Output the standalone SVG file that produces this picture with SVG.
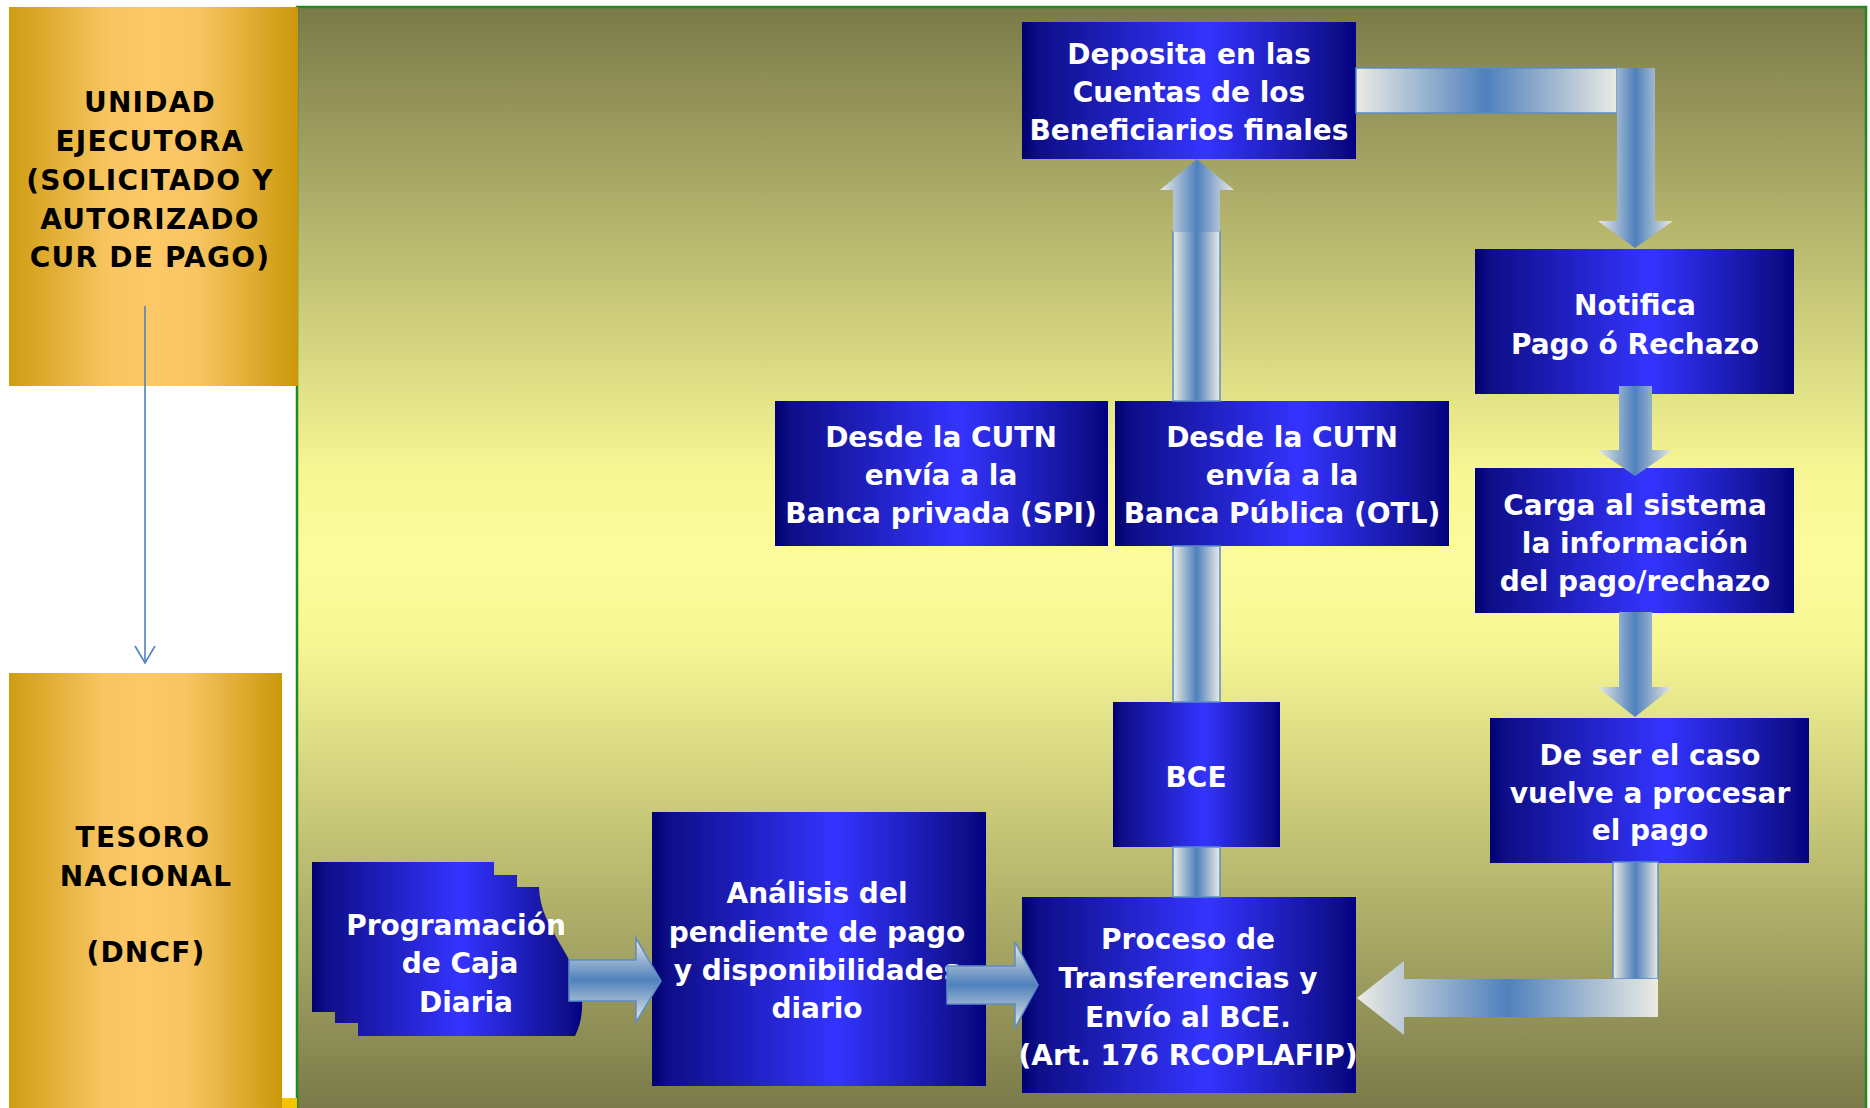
<svg xmlns="http://www.w3.org/2000/svg" width="1870" height="1108" viewBox="0 0 1870 1108">
<defs>
<linearGradient id="bg" x1="0" y1="7" x2="0" y2="1108" gradientUnits="userSpaceOnUse">
<stop offset="0" stop-color="#7a7a4a"/>
<stop offset="0.42" stop-color="#f6f694"/>
<stop offset="0.5" stop-color="#fcfc9c"/>
<stop offset="0.58" stop-color="#f6f694"/>
<stop offset="1" stop-color="#7a7a4a"/>
</linearGradient>
<linearGradient id="gold" x1="0" y1="0" x2="1" y2="0">
<stop offset="0" stop-color="#cf9d12"/>
<stop offset="0.35" stop-color="#f8c562"/>
<stop offset="0.5" stop-color="#fdc866"/>
<stop offset="0.65" stop-color="#f8c562"/>
<stop offset="1" stop-color="#cc980a"/>
</linearGradient>
<linearGradient id="blue" x1="0" y1="0" x2="1" y2="0">
<stop offset="0" stop-color="#000070"/>
<stop offset="0.05" stop-color="#0e0e88"/>
<stop offset="0.55" stop-color="#3434ff"/>
<stop offset="0.95" stop-color="#0e0e8a"/>
<stop offset="1" stop-color="#000082"/>
</linearGradient>
<linearGradient id="gH" x1="0" y1="0" x2="1" y2="0">
<stop offset="0" stop-color="#ebebe3"/>
<stop offset="0.5" stop-color="#4f81bd"/>
<stop offset="1" stop-color="#ebebe3"/>
</linearGradient>
<linearGradient id="gV" x1="0" y1="0" x2="0" y2="1">
<stop offset="0" stop-color="#ebebe3"/>
<stop offset="0.5" stop-color="#4f81bd"/>
<stop offset="1" stop-color="#ebebe3"/>
</linearGradient>
<marker id="open" viewBox="0 0 20 22" refX="18" refY="11" markerWidth="20" markerHeight="22" markerUnits="userSpaceOnUse" orient="auto">
<path d="M1,1 L18,11 L1,21" fill="none" stroke="#4f81bd" stroke-width="1.6"/>
</marker>
<style>
.box{fill:url(#blue)}
.gbox{fill:url(#gold)}
.t{font-family:"DejaVu Sans","Liberation Sans",sans-serif;font-weight:bold;font-size:28px;fill:#ffffff;text-anchor:middle}
.k{font-family:"DejaVu Sans","Liberation Sans",sans-serif;font-weight:bold;font-size:28px;fill:#000000;text-anchor:middle;letter-spacing:1.2px}
.ah{fill:url(#gH)}
.av{fill:url(#gV)}
.edge{stroke:#5b8cc8;stroke-width:1.5}
</style>
</defs>

<rect id="panel" x="297" y="7" width="1569" height="1103" fill="url(#bg)" stroke="#1f8a1f" stroke-width="2.5"/>
<rect x="282" y="1098" width="15" height="10" fill="#f5c400"/>

<g id="n-unidad">
<rect class="gbox" x="9" y="7" width="289" height="379"/>
<text class="k" x="150" y="112">UNIDAD</text>
<text class="k" x="150" y="151">EJECUTORA</text>
<text class="k" x="150" y="190">(SOLICITADO Y</text>
<text class="k" x="150" y="229">AUTORIZADO</text>
<text class="k" x="150" y="267">CUR DE PAGO)</text>
</g>

<g id="n-tesoro">
<rect class="gbox" x="9" y="673" width="273" height="435"/>
<text class="k" x="143" y="847">TESORO</text>
<text class="k" x="146" y="886">NACIONAL</text>
<text class="k" x="146" y="962">(DNCF)</text>
</g>

<g id="n-programacion">
<path class="box" d="M312,862 H494 V875 H517 V887 H539 C540,930 578,955 582,1000 C583,1018 578,1030 575,1036 H358 V1023 H335 V1012 H312 Z"/>
<text class="t" x="456" y="935">Programación</text>
<text class="t" x="460" y="973">de Caja</text>
<text class="t" x="466" y="1012">Diaria</text>
</g>

<g id="n-analisis">
<rect class="box" x="652" y="812" width="334" height="274"/>
<text class="t" x="817" y="903">Análisis del</text>
<text class="t" x="817" y="942">pendiente de pago</text>
<text class="t" x="817" y="980">y disponibilidades</text>
<text class="t" x="817" y="1018">diario</text>
</g>

<g id="n-proceso">
<rect class="box" x="1022" y="897" width="334" height="196"/>
<text class="t" x="1188" y="949">Proceso de</text>
<text class="t" x="1188" y="988">Transferencias y</text>
<text class="t" x="1188" y="1027">Envío al BCE.</text>
<text class="t" x="1188" y="1065">(Art. 176 RCOPLAFIP)</text>
</g>

<g id="n-bce">
<rect class="box" x="1113" y="702" width="167" height="145"/>
<text class="t" x="1196" y="787">BCE</text>
</g>

<g id="n-desde-spi">
<rect class="box" x="775" y="401" width="333" height="145"/>
<text class="t" x="941" y="447">Desde la CUTN</text>
<text class="t" x="941" y="485">envía a la</text>
<text class="t" x="941" y="523">Banca privada (SPI)</text>
</g>

<g id="n-desde-otl">
<rect class="box" x="1115" y="401" width="334" height="145"/>
<text class="t" x="1282" y="447">Desde la CUTN</text>
<text class="t" x="1282" y="485">envía a la</text>
<text class="t" x="1282" y="523">Banca Pública (OTL)</text>
</g>

<g id="n-deposita">
<rect class="box" x="1022" y="22" width="334" height="137"/>
<text class="t" x="1189" y="64">Deposita en las</text>
<text class="t" x="1189" y="102">Cuentas de los</text>
<text class="t" x="1189" y="140">Beneficiarios finales</text>
</g>

<g id="n-notifica">
<rect class="box" x="1475" y="249" width="319" height="145"/>
<text class="t" x="1635" y="315">Notifica</text>
<text class="t" x="1635" y="354">Pago ó Rechazo</text>
</g>

<g id="n-carga">
<rect class="box" x="1475" y="468" width="319" height="145"/>
<text class="t" x="1635" y="515">Carga al sistema</text>
<text class="t" x="1635" y="553">la información</text>
<text class="t" x="1635" y="591">del pago/rechazo</text>
</g>

<g id="n-deser">
<rect class="box" x="1490" y="718" width="319" height="145"/>
<text class="t" x="1650" y="765">De ser el caso</text>
<text class="t" x="1650" y="803">vuelve a procesar</text>
<text class="t" x="1650" y="840">el pago</text>
</g>

<g id="connectors">
<line x1="145" y1="306" x2="145" y2="663" stroke="#4f81bd" stroke-width="1.6" marker-end="url(#open)"/>
<path class="av edge" d="M569,960 H636 V938 L661,981 L636,1022 V1001 H569 Z"/>
<path class="av edge" d="M947,966 H1015 V942 L1038,985 L1015,1028 V1004 H947 Z"/>
<rect class="ah edge" x="1173" y="847" width="47" height="50"/>
<rect class="ah edge" x="1173" y="546" width="47" height="156"/>
<rect class="ah edge" x="1173" y="231" width="47" height="170"/>
<path class="ah" d="M1197,159 L1234,190 H1220 V232 H1173 V190 H1160 Z"/>
<rect class="ah edge" x="1356" y="68" width="261" height="45"/>
<path class="ah" d="M1617,68 H1655 V221 H1673 L1635,248 L1598,221 H1617 Z"/>
<path class="ah" d="M1619,386 H1652 V450 H1673 L1635,476 L1597,450 H1619 Z"/>
<path class="ah" d="M1619,612 H1652 V687 H1673 L1635,717 L1597,687 H1619 Z"/>
<rect class="ah edge" x="1613" y="862" width="45" height="117"/>
<path class="ah" d="M1357,998 L1404,961 V979 H1658 V1017 H1404 V1035 Z"/>
</g>
</svg>
